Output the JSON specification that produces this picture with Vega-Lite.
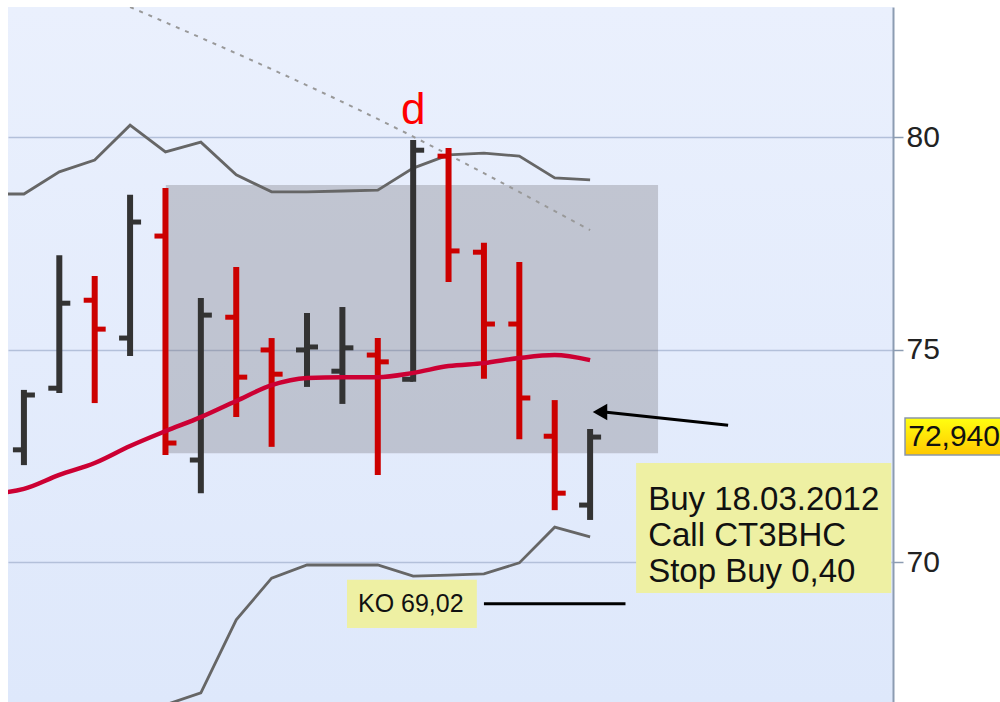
{
  "$schema": "https://vega.github.io/schema/vega-lite/v6.json",
  "width": 885,
  "height": 695,
  "padding": {"left": 8, "top": 7, "right": 0, "bottom": 0},
  "background": "white",
  "config": {
    "view": {
      "fill": {"gradient": "linear", "x1": 0, "y1": 0, "x2": 0, "y2": 1,
        "stops": [{"offset": 0, "color": "#eaf0fd"}, {"offset": 1, "color": "#dee8fb"}]},
      "stroke": null
    },
    "font": "Liberation Sans"
  },
  "datasets": {
    "bars": [
      {"i": 1, "open": 72.64, "high": 74.05, "low": 72.28, "close": 73.93, "dir": "up"},
      {"i": 2, "open": 74.09, "high": 77.22, "low": 73.98, "close": 76.09, "dir": "up"},
      {"i": 3, "open": 76.16, "high": 76.73, "low": 73.74, "close": 75.48, "dir": "down"},
      {"i": 4, "open": 75.27, "high": 78.64, "low": 74.85, "close": 78.00, "dir": "up"},
      {"i": 5, "open": 77.67, "high": 78.80, "low": 72.52, "close": 72.80, "dir": "down"},
      {"i": 6, "open": 72.40, "high": 76.21, "low": 71.62, "close": 75.81, "dir": "up"},
      {"i": 7, "open": 75.76, "high": 76.94, "low": 73.41, "close": 74.35, "dir": "down"},
      {"i": 8, "open": 74.99, "high": 75.27, "low": 72.71, "close": 74.42, "dir": "down"},
      {"i": 9, "open": 74.99, "high": 75.86, "low": 74.12, "close": 75.06, "dir": "up"},
      {"i": 10, "open": 74.49, "high": 76.00, "low": 73.72, "close": 75.04, "dir": "up"},
      {"i": 11, "open": 74.87, "high": 75.27, "low": 72.05, "close": 74.71, "dir": "down"},
      {"i": 12, "open": 74.30, "high": 79.93, "low": 74.24, "close": 79.69, "dir": "up"},
      {"i": 13, "open": 79.55, "high": 79.74, "low": 76.59, "close": 77.32, "dir": "down"},
      {"i": 14, "open": 77.29, "high": 77.51, "low": 74.31, "close": 75.60, "dir": "down"},
      {"i": 15, "open": 75.60, "high": 77.06, "low": 72.89, "close": 73.86, "dir": "down"},
      {"i": 16, "open": 72.96, "high": 73.81, "low": 71.22, "close": 71.62, "dir": "down"},
      {"i": 17, "open": 71.34, "high": 73.13, "low": 70.99, "close": 72.94, "dir": "up"}
    ],
    "upper": [
      {"i": 0, "v": 78.66}, {"i": 1, "v": 78.66}, {"i": 2, "v": 79.18}, {"i": 3, "v": 79.46},
      {"i": 4, "v": 80.28}, {"i": 5, "v": 79.65}, {"i": 6, "v": 79.88}, {"i": 7, "v": 79.11},
      {"i": 8, "v": 78.71}, {"i": 9, "v": 78.71}, {"i": 10, "v": 78.73}, {"i": 11, "v": 78.75},
      {"i": 12, "v": 79.27}, {"i": 13, "v": 79.58}, {"i": 14, "v": 79.62}, {"i": 15, "v": 79.55},
      {"i": 16, "v": 79.04}, {"i": 17, "v": 78.99}
    ],
    "lower": [
      {"i": 4, "v": 66.2}, {"i": 5, "v": 66.64}, {"i": 6, "v": 66.92}, {"i": 7, "v": 68.64},
      {"i": 8, "v": 69.62}, {"i": 9, "v": 69.93}, {"i": 10, "v": 69.93}, {"i": 11, "v": 69.93},
      {"i": 12, "v": 69.67}, {"i": 13, "v": 69.69}, {"i": 14, "v": 69.72}, {"i": 15, "v": 69.98},
      {"i": 16, "v": 70.82}, {"i": 17, "v": 70.59}
    ],
    "ma": [
      {"i": 0, "v": 71.6}, {"i": 1, "v": 71.72}, {"i": 2, "v": 72.05}, {"i": 3, "v": 72.33},
      {"i": 4, "v": 72.73}, {"i": 5, "v": 73.08}, {"i": 6, "v": 73.41}, {"i": 7, "v": 73.79},
      {"i": 8, "v": 74.16}, {"i": 9, "v": 74.33}, {"i": 10, "v": 74.35}, {"i": 11, "v": 74.35},
      {"i": 12, "v": 74.45}, {"i": 13, "v": 74.61}, {"i": 14, "v": 74.68}, {"i": 15, "v": 74.80},
      {"i": 16, "v": 74.87}, {"i": 17, "v": 74.75}
    ],
    "trend": [
      {"i": 4.0, "v": 83.06}, {"i": 11.06, "v": 80.40}, {"i": 17.0, "v": 77.81}
    ],
    "zone": [{"x1": 5.01, "x2": 18.92, "top": 78.87, "bottom": 72.56}],
    "ko": [{"x1": 14.0, "x2": 18.0, "v": 69.02}],
    "arrow": [{"i": 20.9, "v": 73.22}, {"i": 17.4, "v": 73.53}],
    "arrowhead": [{"i": 17.28, "v": 73.53}],
    "boxes": [
      {"x1": 18.30, "x2": 25.51, "top": 72.33, "bottom": 69.27},
      {"x1": 10.13, "x2": 13.80, "top": 69.58, "bottom": 68.45}
    ],
    "buytext": [
      {"i": 18.64, "v": 71.22, "t": "Buy 18.03.2012"},
      {"i": 18.64, "v": 70.38, "t": "Call CT3BHC"},
      {"i": 18.64, "v": 69.53, "t": "Stop Buy 0,40"}
    ],
    "kotext": [{"i": 10.44, "v": 69.01, "t": "KO 69,02"}],
    "pricebox": [{"x1": 25.9, "x2": 28.7, "top": 73.39, "bottom": 72.52}],
    "pricetext": [{"i": 25.99, "v": 72.95, "t": "72,940"}],
    "dlabel": [{"i": 12.0, "v": 80.31, "t": "d"}]
  },
  "layer": [
    {
      "data": {"name": "zone"},
      "mark": {"type": "rect", "color": "#6b676d", "opacity": 0.3},
      "encoding": {
        "x": {"field": "x1", "type": "quantitative", "scale": {"domain": [0.55, 25.56], "nice": false, "zero": false}, "axis": null},
        "x2": {"field": "x2"},
        "y": {"field": "top", "type": "quantitative",
          "scale": {"domain": [66.706, 83.06], "nice": false, "zero": false},
          "axis": {"orient": "right", "values": [70, 75, 80], "title": null, "grid": true,
            "gridColor": "#b3c0da", "gridWidth": 1.5, "gridOpacity": 1,
            "domain": true, "domainColor": "#8c9cb2", "domainWidth": 2,
            "ticks": true, "tickColor": "#8c9cb2", "tickSize": 10, "tickWidth": 1.5,
            "labelFontSize": 30, "labelColor": "#222222", "labelPadding": 3,
            "labelFont": "Liberation Sans", "labelBaseline": "middle"}},
        "y2": {"field": "bottom"}
      }
    },
    {
      "data": {"name": "upper"},
      "mark": {"type": "line", "color": "#666666", "strokeWidth": 2.8, "clip": true},
      "encoding": {"x": {"field": "i", "type": "quantitative"}, "y": {"field": "v", "type": "quantitative"}}
    },
    {
      "data": {"name": "lower"},
      "mark": {"type": "line", "color": "#666666", "strokeWidth": 2.8, "clip": true},
      "encoding": {"x": {"field": "i", "type": "quantitative"}, "y": {"field": "v", "type": "quantitative"}}
    },
    {
      "data": {"name": "trend"},
      "mark": {"type": "line", "color": "#999999", "strokeWidth": 2, "strokeDash": [4, 6], "clip": true, "interpolate": "monotone"},
      "encoding": {"x": {"field": "i", "type": "quantitative"}, "y": {"field": "v", "type": "quantitative"}}
    },
    {
      "data": {"name": "bars"},
      "mark": {"type": "rule", "strokeWidth": 6},
      "encoding": {
        "x": {"field": "i", "type": "quantitative"},
        "y": {"field": "low", "type": "quantitative"},
        "y2": {"field": "high"},
        "color": {"field": "dir", "type": "nominal", "scale": {"domain": ["up", "down"], "range": ["#333333", "#cc0000"]}, "legend": null}
      }
    },
    {
      "data": {"name": "bars"},
      "mark": {"type": "rule", "strokeWidth": 5, "x2Offset": -11},
      "encoding": {
        "x": {"field": "i", "type": "quantitative"},
        "x2": {"field": "i"},
        "y": {"field": "open", "type": "quantitative"},
        "color": {"field": "dir", "type": "nominal", "legend": null}
      }
    },
    {
      "data": {"name": "bars"},
      "mark": {"type": "rule", "strokeWidth": 5, "x2Offset": 11},
      "encoding": {
        "x": {"field": "i", "type": "quantitative"},
        "x2": {"field": "i"},
        "y": {"field": "close", "type": "quantitative"},
        "color": {"field": "dir", "type": "nominal", "legend": null}
      }
    },
    {
      "data": {"name": "ma"},
      "mark": {"type": "line", "color": "#cc0033", "strokeWidth": 4.5, "clip": true, "interpolate": "monotone"},
      "encoding": {"x": {"field": "i", "type": "quantitative"}, "y": {"field": "v", "type": "quantitative"}}
    },
    {
      "data": {"name": "ko"},
      "mark": {"type": "rule", "color": "#000000", "strokeWidth": 3},
      "encoding": {"x": {"field": "x1", "type": "quantitative"}, "x2": {"field": "x2"}, "y": {"field": "v", "type": "quantitative"}}
    },
    {
      "data": {"name": "arrow"},
      "mark": {"type": "line", "color": "#000000", "strokeWidth": 3},
      "encoding": {"x": {"field": "i", "type": "quantitative"}, "y": {"field": "v", "type": "quantitative"}}
    },
    {
      "data": {"name": "arrowhead"},
      "mark": {"type": "point", "shape": "triangle-left", "filled": true, "color": "#000000", "size": 280, "opacity": 1},
      "encoding": {"x": {"field": "i", "type": "quantitative"}, "y": {"field": "v", "type": "quantitative"}}
    },
    {
      "data": {"name": "boxes"},
      "mark": {"type": "rect", "color": "#eef0a3", "opacity": 1},
      "encoding": {"x": {"field": "x1", "type": "quantitative"}, "x2": {"field": "x2"}, "y": {"field": "top", "type": "quantitative"}, "y2": {"field": "bottom"}}
    },
    {
      "data": {"name": "buytext"},
      "mark": {"type": "text", "align": "left", "baseline": "alphabetic", "fontSize": 33, "color": "#111111", "font": "Liberation Sans"},
      "encoding": {"x": {"field": "i", "type": "quantitative"}, "y": {"field": "v", "type": "quantitative"}, "text": {"field": "t"}}
    },
    {
      "data": {"name": "kotext"},
      "mark": {"type": "text", "align": "left", "baseline": "middle", "fontSize": 25, "color": "#111111", "font": "Liberation Sans"},
      "encoding": {"x": {"field": "i", "type": "quantitative"}, "y": {"field": "v", "type": "quantitative"}, "text": {"field": "t"}}
    },
    {
      "data": {"name": "pricebox"},
      "mark": {"type": "rect", "clip": false, "stroke": "#8a96a8", "strokeWidth": 1.5,
        "fill": {"gradient": "linear", "x1": 0, "y1": 0, "x2": 0, "y2": 1,
          "stops": [{"offset": 0, "color": "#ffff10"}, {"offset": 1, "color": "#ffc800"}]}},
      "encoding": {"x": {"field": "x1", "type": "quantitative"}, "x2": {"field": "x2"}, "y": {"field": "top", "type": "quantitative"}, "y2": {"field": "bottom"}}
    },
    {
      "data": {"name": "pricetext"},
      "mark": {"type": "text", "align": "left", "baseline": "middle", "fontSize": 30, "color": "#111111", "font": "Liberation Sans", "clip": false},
      "encoding": {"x": {"field": "i", "type": "quantitative"}, "y": {"field": "v", "type": "quantitative"}, "text": {"field": "t"}}
    },
    {
      "data": {"name": "dlabel"},
      "mark": {"type": "text", "align": "center", "baseline": "alphabetic", "fontSize": 44, "color": "#ff0000", "font": "Liberation Sans"},
      "encoding": {"x": {"field": "i", "type": "quantitative"}, "y": {"field": "v", "type": "quantitative"}, "text": {"field": "t"}}
    }
  ]
}
